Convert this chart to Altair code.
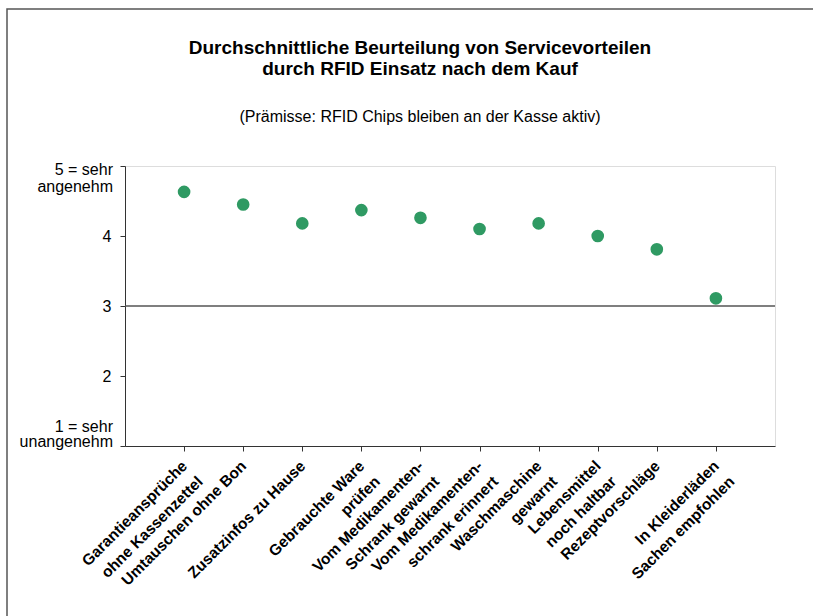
import altair as alt
import pandas as pd

# ---- data -------------------------------------------------------------
categories = [
    "Garantieansprüche|ohne Kassenzettel",
    "Umtauschen ohne Bon",
    "Zusatzinfos zu Hause",
    "Gebrauchte Ware|prüfen",
    "Vom Medikamenten-|Schrank gewarnt",
    "Vom Medikamenten-|schrank erinnert",
    "Waschmaschine|gewarnt",
    "Lebensmittel|noch haltbar",
    "Rezeptvorschläge",
    "In Kleiderläden|Sachen empfohlen",
]
ratings = [4.63, 4.45, 4.18, 4.37, 4.26, 4.10, 4.18, 4.00, 3.81, 3.11]

y_ticks = [1, 2, 3, 4, 5]
y_tick_labels = ["1 = sehr|unangenehm", "2", "3", "4", "5 = sehr|angenehm"]
reference_value = [3]

title_lines = ["Durchschnittliche Beurteilung von Servicevorteilen",
               "durch RFID Einsatz nach dem Kauf"]
subtitle_lines = ["(Prämisse: RFID Chips bleiben an der Kasse aktiv)"]

# ---- label layout helper: lines of a rotated label are left-aligned
# within their block (as in the original), so shorter lines are padded
# with en spaces (U+2002, half an em wide) using approximate bold widths.
BOLD_W = {
    " ": 278, "-": 333,
    "a": 556, "b": 611, "c": 556, "d": 611, "e": 556, "f": 333, "g": 611,
    "h": 611, "i": 278, "k": 556, "l": 278, "m": 889, "n": 611, "o": 611,
    "p": 611, "r": 389, "s": 556, "t": 333, "u": 611, "v": 556, "w": 778,
    "z": 500, "ä": 556, "ü": 611,
    "B": 722, "G": 778, "H": 722, "I": 278, "K": 722, "L": 611, "M": 833,
    "R": 722, "S": 667, "U": 722, "V": 667, "W": 944, "Z": 611,
}
PAD_CHAR, PAD_W = "\u2002", 500


def text_w(s):
    return sum(BOLD_W.get(c, 556) for c in s)


def pad_label(label):
    lines = label.split("|")
    w = max(text_w(l) for l in lines)
    return "|".join(l + PAD_CHAR * round((w - text_w(l)) / PAD_W) for l in lines)


# ---- tables -----------------------------------------------------------
df = pd.DataFrame({"cat": [pad_label(c) for c in categories], "rating": ratings})
ref_df = pd.DataFrame({"ref": reference_value})

end_labels = [(v, lab.split("|")) for v, lab in zip(y_ticks, y_tick_labels) if "|" in lab]
end_df = pd.DataFrame({"value": [v for v, _ in end_labels],
                       "lines": [l for _, l in end_labels]})
top_value, bottom_value = max(y_ticks), min(y_ticks)

y_label_expr = " : ".join(
    f"datum.value == {v} ? '{'' if '|' in lab else lab}'" for v, lab in zip(y_ticks, y_tick_labels)
) + " : datum.label"

FONT = "Liberation Sans"
AXIS_COLOR = "#333333"
Y_SCALE = alt.Scale(domain=[1, 5], nice=False, zero=False)

x_enc = alt.X(
    "cat:N",
    sort=None,
    scale=alt.Scale(type="point", padding=1),
    axis=alt.Axis(
        title=None,
        labelExpr="split(datum.label, '|')",
        labelAngle=-45,
        labelAlign="right",
        labelBaseline="middle",
        labelPadding=12,
        labelFontSize=15.5,
        labelFontWeight="bold",
        labelLineHeight=22,
        labelColor="#000000",
        labelFont=FONT,
        labelOverlap=False,
        labelLimit=400,
        tickSize=5,
        tickColor=AXIS_COLOR,
        domainColor=AXIS_COLOR,
        grid=False,
    ),
)

y_enc = alt.Y(
    "rating:Q",
    scale=Y_SCALE,
    axis=alt.Axis(
        title=None,
        values=y_ticks,
        labelExpr=y_label_expr,
        labelBaseline="middle",
        labelFontSize=16,
        labelColor="#000000",
        labelFont=FONT,
        labelPadding=9,
        tickSize=5,
        tickColor=AXIS_COLOR,
        domainColor=AXIS_COLOR,
        grid=False,
    ),
)

points = alt.Chart(df).mark_circle(size=160, color="#2f9a63", opacity=1).encode(
    x=x_enc, y=y_enc
)

ref_rule = alt.Chart(ref_df).mark_rule(color="#555555", strokeWidth=1.5).encode(
    y=alt.Y("ref:Q", scale=Y_SCALE)
)

end_text_base = alt.Chart(end_df).encode(
    x=alt.value(-12),
    y=alt.Y("value:Q", scale=Y_SCALE),
    text="lines:N",
)
top_label = end_text_base.transform_filter(f"datum.value == {top_value}").mark_text(
    align="right", baseline="alphabetic", dy=9, fontSize=16, lineHeight=16.5,
    font=FONT, color="#000000",
)
bottom_label = end_text_base.transform_filter(f"datum.value == {bottom_value}").mark_text(
    align="right", baseline="alphabetic", dy=-14.5, fontSize=16, lineHeight=15.5,
    font=FONT, color="#000000",
)

frame = alt.Chart(ref_df).mark_rect(
    fill=None, stroke="#555555", strokeWidth=1.5, clip=False
).encode(
    x=alt.value(-118), x2=alt.value(720), y=alt.value(-157), y2=alt.value(480)
)

chart = (
    alt.layer(frame, ref_rule, points, top_label, bottom_label)
    .properties(
        width=650,
        height=280,
        padding={"left": 125, "top": 166, "right": 38, "bottom": 170},
        autosize=alt.AutoSizeParams(type="none"),
        title=alt.TitleParams(
            text=title_lines,
            subtitle=subtitle_lines,
            font=FONT,
            fontSize=19,
            fontWeight="bold",
            lineHeight=21,
            color="#000000",
            subtitleFont=FONT,
            subtitleFontSize=16,
            subtitleColor="#000000",
            subtitlePadding=30,
            anchor="middle",
            frame="group",
            dx=-30,
            offset=-117,
        ),
    )
    .configure_view(stroke=None)
    .configure(background="white")
)

chart.save("out.html", embed_options={"renderer": "svg", "actions": False})
